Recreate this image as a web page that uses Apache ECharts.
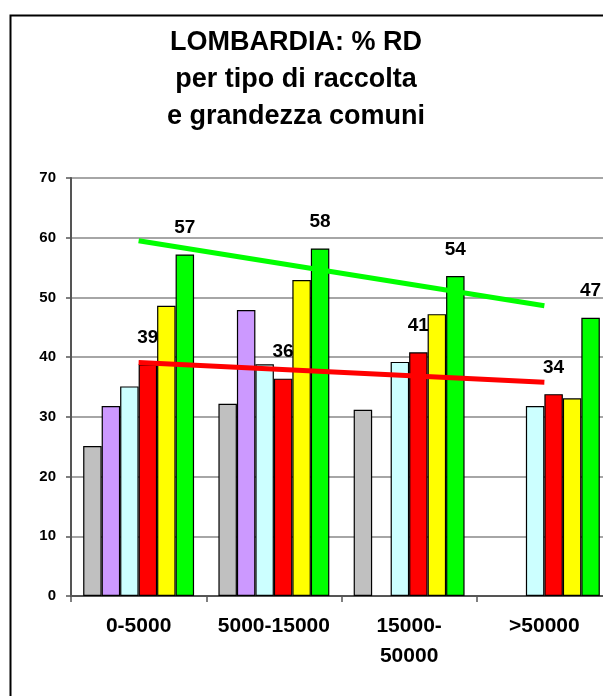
<!DOCTYPE html>
<html>
<head>
<meta charset="utf-8">
<script src="https://cdn.jsdelivr.net/npm/echarts@6/dist/echarts.min.js"></script>
<style>
html,body{margin:0;padding:0;background:#fff;overflow:hidden;width:603px;height:696px;}
#c{width:640px;height:696px;}
</style>
</head>
<body>
<div id="c"></div>
<script>
const categories = ['0-5000', '5000-15000', '15000-\n50000', '>50000'];
const seriesNames = ['grigio', 'viola', 'azzurro', 'rosso', 'giallo', 'verde'];
const greyValues   = [25.1, 32.2, 31.2, null];
const purpleValues = [31.8, 47.9, null, null];
const cyanValues   = [35.1, 38.8, 39.2, 31.8];
const redValues    = [38.8, 36.4, 40.8, 33.8];
const yellowValues = [48.6, 52.9, 47.2, 33.1];
const greenValues  = [57.2, 58.2, 53.6, 46.6];
const greenTrend   = [59.5, null, null, 48.6];
const redTrend     = [39.1, null, null, 35.8];
const yTicks = [0, 10, 20, 30, 40, 50, 60, 70];

const FONT = "'Liberation Sans', Arial, sans-serif";
const colors = ['#c0c0c0', '#cc99ff', '#ccffff', '#ff0000', '#ffff00', '#00ff00'];
const values = [greyValues, purpleValues, cyanValues, redValues, yellowValues, greenValues];
const labelled = [false, false, false, true, false, true];
const zs = [2, 2, 2, 2, 3, 3];

const chart = echarts.init(document.getElementById('c'));
const barSeries = values.map((v, i) => ({
  name: seriesNames[i],
  type: 'bar',
  data: v,
  z: zs[i],
  barGap: '0%',
  barCategoryGap: '18%',
  itemStyle: { color: colors[i], borderColor: '#000', borderWidth: 1.2 },
  label: {
    show: labelled[i],
    position: 'top',
    distance: 17,
    formatter: p => Math.round(p.value),
    fontFamily: FONT, fontWeight: 'bold', fontSize: 19, color: '#000'
  }
}));
const trend = (data, color) => ({
  type: 'line', data: data, connectNulls: true, symbol: 'none', z: 5,
  lineStyle: { color: color, width: 5 }, silent: true
});

chart.setOption({
  animation: false,
  title: {
    text: 'LOMBARDIA: % RD\nper tipo di raccolta\ne grandezza comuni',
    left: 296, textAlign: 'center', top: 24, padding: 0,
    textStyle: { fontFamily: FONT, fontWeight: 'bold', fontSize: 27, lineHeight: 37, color: '#000' }
  },
  graphic: [{
    type: 'rect', shape: { x: 10.5, y: 15.5, width: 800, height: 900 },
    style: { fill: 'none', stroke: '#000', lineWidth: 2 }, silent: true
  }],
  grid: { left: 71, top: 178, width: 541, height: 418, containLabel: false },
  xAxis: {
    type: 'category', data: categories,
    axisLine: { lineStyle: { color: '#555', width: 2 } },
    axisTick: { show: true, length: 6, lineStyle: { color: '#555', width: 1.5 } },
    axisLabel: { fontFamily: FONT, fontWeight: 'bold', fontSize: 21, lineHeight: 30, color: '#000', margin: 15, interval: 0 },
    splitLine: { show: false }
  },
  yAxis: {
    type: 'value', min: yTicks[0], max: yTicks[yTicks.length - 1], interval: 10,
    axisLine: { show: true, lineStyle: { color: '#555', width: 2 } },
    axisTick: { show: true, inside: false, length: 5, lineStyle: { color: '#555', width: 1.5 } },
    axisLabel: { fontFamily: FONT, fontWeight: 'bold', fontSize: 15, color: '#000', margin: 15 },
    splitLine: { show: true, lineStyle: { color: '#888', width: 1.5 } }
  },
  series: barSeries.concat([trend(greenTrend, '#00ff00'), trend(redTrend, '#ff0000')])
});
</script>
</body>
</html>
